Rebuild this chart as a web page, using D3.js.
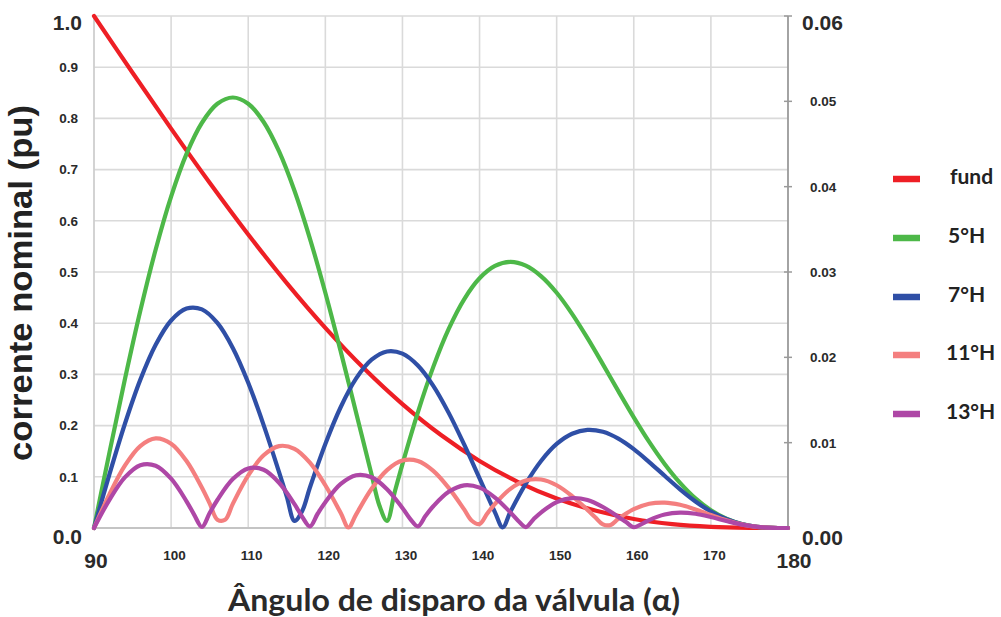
<!DOCTYPE html>
<html>
<head>
<meta charset="utf-8">
<script src="https://cdn.jsdelivr.net/npm/d3@7/dist/d3.min.js"></script>
<style>
  html, body { margin: 0; padding: 0; background: #fff; }
  svg { display: block; }
</style>
</head>
<body>
<svg id="chart" width="1001" height="617"></svg>
<script>
// Firing angle (degrees) and fundamental current, left axis (pu)
const fundAngles = [90, 95, 100, 105, 110, 115, 120, 125, 130, 135, 140, 145, 150, 155, 160, 165, 170, 175, 180];
const fundValues = [1.0, 0.8892, 0.7800, 0.6742, 0.5732, 0.4784, 0.3910, 0.3120, 0.2421, 0.1817, 0.1310, 0.0898, 0.0577, 0.0340, 0.0176, 0.0075, 0.0023, 0.0003, 0];

// 5th harmonic, right axis
const h5Angles = [90, 92, 94, 96, 98, 100, 102, 104, 106, 108, 110, 112, 114, 116, 118, 120, 122, 124, 126, 127, 128, 129, 130, 132, 134, 136, 138, 140, 142, 144, 146, 148, 150, 152, 154, 156, 158, 160, 162, 164, 166, 168, 170, 172, 174, 176, 178, 180];
const h5Values = [0, 0.00884, 0.01740, 0.02542, 0.03264, 0.03884, 0.04384, 0.04749, 0.04971, 0.05045, 0.04972, 0.04758, 0.04413, 0.03952, 0.03392, 0.02757, 0.02067, 0.01348, 0.00624, 0.00267, 0.00083, 0.00422, 0.00749, 0.01356, 0.01888, 0.02333, 0.02680, 0.02926, 0.03071, 0.03118, 0.03074, 0.02949, 0.02757, 0.02510, 0.02225, 0.01918, 0.01604, 0.01297, 0.01009, 0.00751, 0.00529, 0.00347, 0.00208, 0.00110, 0.00047, 0.00014, 0.00002, 0];

// 7th harmonic, right axis
const h7Angles = [90, 92, 94, 96, 98, 100, 102, 104, 106, 108, 110, 112, 114, 115, 116, 117, 118, 120, 122, 124, 126, 128, 130, 132, 134, 136, 138, 140, 142, 143, 144, 146, 148, 150, 152, 154, 156, 158, 160, 162, 164, 166, 168, 170, 172, 174, 176, 178, 180];
const h7Values = [0, 0.00629, 0.01219, 0.01736, 0.02148, 0.02432, 0.02572, 0.02562, 0.02403, 0.02110, 0.01702, 0.01206, 0.00655, 0.00369, 0.00083, 0.00200, 0.00475, 0.00985, 0.01418, 0.01753, 0.01972, 0.02069, 0.02043, 0.01904, 0.01666, 0.01349, 0.00979, 0.00582, 0.00184, 0.00008, 0.00190, 0.00520, 0.00788, 0.00985, 0.01105, 0.01150, 0.01127, 0.01047, 0.00924, 0.00773, 0.00612, 0.00453, 0.00311, 0.00193, 0.00105, 0.00046, 0.00014, 0.00002, 0];

// 11th harmonic, right axis
const h11Angles = [90, 92, 94, 96, 98, 100, 102, 104, 105, 106, 107, 108, 110, 112, 114, 116, 118, 120, 122, 123, 124, 126, 128, 130, 132, 134, 136, 138, 139, 140, 141, 142, 144, 146, 148, 150, 152, 154, 155, 156, 157, 158, 160, 162, 164, 166, 168, 170, 172, 174, 176, 178, 180];
const h11Values = [0, 0.00394, 0.00730, 0.00960, 0.01050, 0.00988, 0.00785, 0.00472, 0.00289, 0.00098, 0.00096, 0.00283, 0.00616, 0.00852, 0.00960, 0.00928, 0.00766, 0.00501, 0.00176, 0.00006, 0.00160, 0.00459, 0.00678, 0.00790, 0.00785, 0.00670, 0.00470, 0.00218, 0.00085, 0.00046, 0.00169, 0.00282, 0.00459, 0.00556, 0.00568, 0.00501, 0.00374, 0.00212, 0.00126, 0.00043, 0.00036, 0.00108, 0.00220, 0.00284, 0.00298, 0.00272, 0.00218, 0.00152, 0.00090, 0.00043, 0.00014, 0.00002, 0];

// 13th harmonic, right axis
const h13Angles = [90, 92, 94, 96, 98, 100, 102, 103, 104, 105, 106, 108, 110, 112, 114, 116, 117, 118, 119, 120, 122, 124, 126, 128, 130, 131, 132, 133, 134, 136, 138, 140, 142, 144, 145, 146, 147, 148, 150, 152, 154, 156, 158, 159, 160, 161, 162, 164, 166, 168, 170, 172, 174, 176, 178, 180];
const h13Values = [0, 0.00330, 0.00593, 0.00736, 0.00730, 0.00578, 0.00313, 0.00154, 0.00012, 0.00175, 0.00328, 0.00573, 0.00698, 0.00682, 0.00530, 0.00279, 0.00132, 0.00019, 0.00167, 0.00303, 0.00516, 0.00618, 0.00594, 0.00455, 0.00234, 0.00108, 0.00020, 0.00143, 0.00255, 0.00424, 0.00500, 0.00473, 0.00357, 0.00183, 0.00086, 0.00011, 0.00102, 0.00184, 0.00303, 0.00351, 0.00328, 0.00246, 0.00130, 0.00069, 0.00009, 0.00046, 0.00093, 0.00158, 0.00181, 0.00167, 0.00129, 0.00082, 0.00040, 0.00013, 0.00002, 0];

// Tick labels
const xTicks = [100, 110, 120, 130, 140, 150, 160, 170];
const xEndLabels = ["90", "180"];
const yLeftTicks = [0.1, 0.2, 0.3, 0.4, 0.5, 0.6, 0.7, 0.8, 0.9];
const yLeftEndLabels = ["1.0", "0.0"];
const yRightTicks = [0.01, 0.02, 0.03, 0.04, 0.05];
const yRightEndLabels = ["0.06", "0.00"];

const seriesNames = ["fund", "5°H", "7°H", "11°H", "13°H"];
const seriesColors = ["#ee1f25", "#4db848", "#2f4fa6", "#f47f7f", "#ae47a6"];

const svg = d3.select("#chart");
const W = 1001, H = 617;
svg.append("rect").attr("width", W).attr("height", H).attr("fill", "#fff");

const x = d3.scaleLinear().domain([90, 180]).range([94, 788]);
const yL = d3.scaleLinear().domain([0, 1]).range([528, 16]);
const yR = d3.scaleLinear().domain([0, 0.06]).range([528, 16]);

const numFont = "'Liberation Sans', Arial, sans-serif";
const titleFont = "Lato, 'Open Sans', sans-serif";

// Grid
const grid = svg.append("g").attr("stroke", "#dadada").attr("stroke-width", 1.6);
grid.selectAll("line.v").data(xTicks).join("line")
  .attr("x1", d => x(d)).attr("x2", d => x(d))
  .attr("y1", yL(1)).attr("y2", yL(0));
grid.selectAll("line.h").data(yLeftTicks.concat([1])).join("line")
  .attr("x1", x(90)).attr("x2", x(180))
  .attr("y1", d => yL(d)).attr("y2", d => yL(d));

// Frame: left and bottom axis lines
svg.append("line").attr("x1", x(90)).attr("x2", x(90)).attr("y1", yL(1)).attr("y2", yL(0))
  .attr("stroke", "#cfcfcf").attr("stroke-width", 1.8);
svg.append("line").attr("x1", x(90)).attr("x2", x(180)).attr("y1", yL(0)).attr("y2", yL(0))
  .attr("stroke", "#c4c4c4").attr("stroke-width", 1.8);

// Right axis with small ticks
svg.append("line").attr("x1", x(180)).attr("x2", x(180)).attr("y1", yR(0.06)).attr("y2", yR(0))
  .attr("stroke", "#9a9a9a").attr("stroke-width", 1.8);
svg.selectAll("line.rt").data(yRightTicks.concat([0.06])).join("line")
  .attr("x1", x(180) - 4).attr("x2", x(180) + 4)
  .attr("y1", d => yR(d)).attr("y2", d => yR(d))
  .attr("stroke", "#9a9a9a").attr("stroke-width", 1.5);

// Series
const lineGen = d3.line().curve(d3.curveCatmullRom.alpha(0.5));
function drawSeries(angles, values, yScale, color) {
  const pts = angles.map((a, i) => [x(a), yScale(values[i])]);
  svg.append("path").attr("d", lineGen(pts))
    .attr("fill", "none").attr("stroke", color).attr("stroke-width", 4.2)
    .attr("stroke-linejoin", "round").attr("stroke-linecap", "round");
}
drawSeries(fundAngles, fundValues, yL, seriesColors[0]);
drawSeries(h5Angles, h5Values, yR, seriesColors[1]);
drawSeries(h7Angles, h7Values, yR, seriesColors[2]);
drawSeries(h11Angles, h11Values, yR, seriesColors[3]);
drawSeries(h13Angles, h13Values, yR, seriesColors[4]);

// Left tick labels
const txt = svg.append("g").attr("fill", "#2a2a2a").attr("font-family", numFont).attr("font-weight", "bold");
txt.selectAll("text.yl").data(yLeftTicks).join("text")
  .attr("x", 78).attr("y", d => yL(d)).attr("dy", "0.36em")
  .attr("text-anchor", "end").attr("font-size", 13.5)
  .text(d => d3.format(".1f")(d));
txt.selectAll("text.yle").data(yLeftEndLabels).join("text")
  .attr("x", 82).attr("y", (d, i) => i === 0 ? yL(1) + 14 : yL(0) + 16)
  .attr("text-anchor", "end").attr("font-size", 21)
  .text(d => d);

// Right tick labels
txt.selectAll("text.yr").data(yRightTicks).join("text")
  .attr("x", 810).attr("y", d => yR(d)).attr("dy", "0.36em")
  .attr("text-anchor", "start").attr("font-size", 13.5)
  .text(d => d3.format(".2f")(d));
txt.selectAll("text.yre").data(yRightEndLabels).join("text")
  .attr("x", 802).attr("y", (d, i) => i === 0 ? yR(0.06) + 14 : yR(0) + 17)
  .attr("text-anchor", "start").attr("font-size", 21)
  .text(d => d);

// Bottom tick labels
txt.selectAll("text.xt").data(xTicks).join("text")
  .attr("x", d => x(d) + 3.5).attr("y", 560)
  .attr("text-anchor", "middle").attr("font-size", 13.5)
  .text(d => d);
txt.selectAll("text.xte").data(xEndLabels).join("text")
  .attr("x", (d, i) => i === 0 ? x(90) + 2 : x(180) + 6).attr("y", 568)
  .attr("text-anchor", "middle").attr("font-size", 21)
  .text(d => d);

// Axis titles
svg.append("text")
  .attr("transform", "translate(32,283) rotate(-90)")
  .attr("text-anchor", "middle").attr("font-family", numFont).attr("font-weight", "bold")
  .attr("font-size", 33).attr("fill", "#222")
  .attr("textLength", 356).attr("lengthAdjust", "spacingAndGlyphs")
  .text("corrente nominal (pu)");
svg.append("text")
  .attr("x", 454).attr("y", 611)
  .attr("text-anchor", "middle").attr("font-family", titleFont).attr("font-weight", "bold")
  .attr("font-size", 31).attr("fill", "#2a2a2a")
  .attr("textLength", 452).attr("lengthAdjust", "spacingAndGlyphs")
  .text("Ângulo de disparo da válvula (α)");

// Legend
const legY = [179, 238, 297, 355, 414];
const leg = svg.append("g");
leg.selectAll("line").data(seriesNames).join("line")
  .attr("x1", 893).attr("x2", 920)
  .attr("y1", (d, i) => legY[i]).attr("y2", (d, i) => legY[i])
  .attr("stroke", (d, i) => seriesColors[i]).attr("stroke-width", 6.5);
leg.selectAll("text").data(seriesNames).join("text")
  .attr("x", (d, i) => i === 0 ? 950 : (i >= 3 ? 946 : 948))
  .attr("y", (d, i) => legY[i] + 5)
  .attr("font-family", titleFont).attr("font-weight", "bold")
  .attr("font-size", 21).attr("fill", "#222")
  .text(d => d);
</script>
</body>
</html>
